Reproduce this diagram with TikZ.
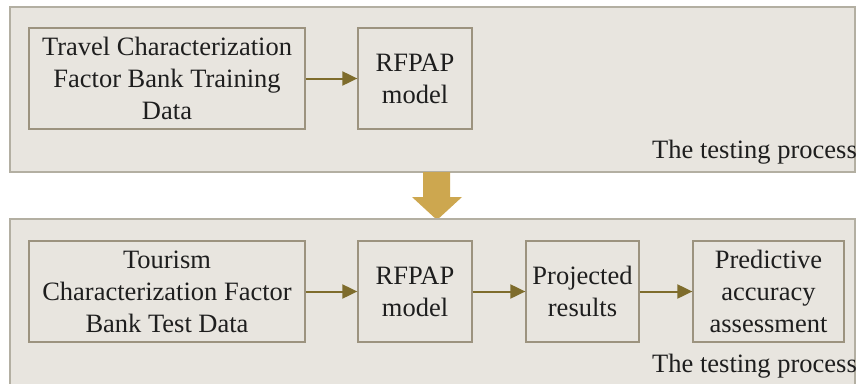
\documentclass[tikz,border=0pt]{standalone}
\usepackage{fontspec}
\setmainfont{Liberation Serif}
\usetikzlibrary{arrows.meta}
\definecolor{panelfill}{HTML}{E8E5DF}
\definecolor{paneledge}{HTML}{B3AFA2}
\definecolor{boxedge}{HTML}{9C937F}
\definecolor{flowline}{HTML}{7E6C2C}
\definecolor{bigarrow}{HTML}{CDA74F}
\definecolor{inktext}{HTML}{1E1E1E}
\tikzset{
  panel/.style={fill=panelfill, draw=paneledge, line width=1.6pt},
  stagebox/.style={draw=boxedge, line width=1.3pt, fill=panelfill, align=center,
    inner sep=0pt, minimum height=101pt, text=inktext,
    font=\fontsize{26.5}{32}\selectfont},
  flow/.style={draw=flowline, line width=2pt,
    -{Triangle[length=15pt,width=14pt]}},
  caption/.style={anchor=base east, inner sep=0pt, text=inktext,
    font=\fontsize{26.5}{30}\selectfont}
}
\begin{document}
\begin{tikzpicture}[x=1pt,y=-1pt]
\useasboundingbox (0,0) rectangle (858,383);
\fill[white] (0,0) rectangle (858,383);

% upper panel: training stage
\draw[panel] (10,7) rectangle (855,172);
\node[stagebox, minimum width=276pt] (train) at (167,78.5)
  {Travel Characterization\\Factor Bank Training\\Data};
\node[stagebox, minimum width=114pt] (model1) at (415,78.5) {RFPAP\\model};
\draw[flow] (train) -- (model1);
\node[caption] (cap1) at (857,158) {The testing process};

% transition arrow between the stages
\fill[bigarrow] (423,172) -- (450,172) -- (450,197) -- (462,197) -- (437,220)
  -- (412,197) -- (423,197) -- cycle;

% lower panel: testing stage
\draw[panel] (10,219) rectangle (855,395);
\node[stagebox, minimum width=276pt] (test) at (167,291.5)
  {Tourism\\Characterization Factor\\Bank Test Data};
\node[stagebox, minimum width=114pt] (model2) at (415,291.5) {RFPAP\\model};
\node[stagebox, minimum width=113pt] (proj) at (582.5,291.5) {Projected\\results};
\node[stagebox, minimum width=151pt] (acc) at (768.5,291.5)
  {Predictive\\accuracy\\assessment};
\draw[flow] (test) -- (model2);
\draw[flow] (model2) -- (proj);
\draw[flow] (proj) -- (acc);
\node[caption] (cap2) at (857,372) {The testing process};
\end{tikzpicture}
\end{document}
